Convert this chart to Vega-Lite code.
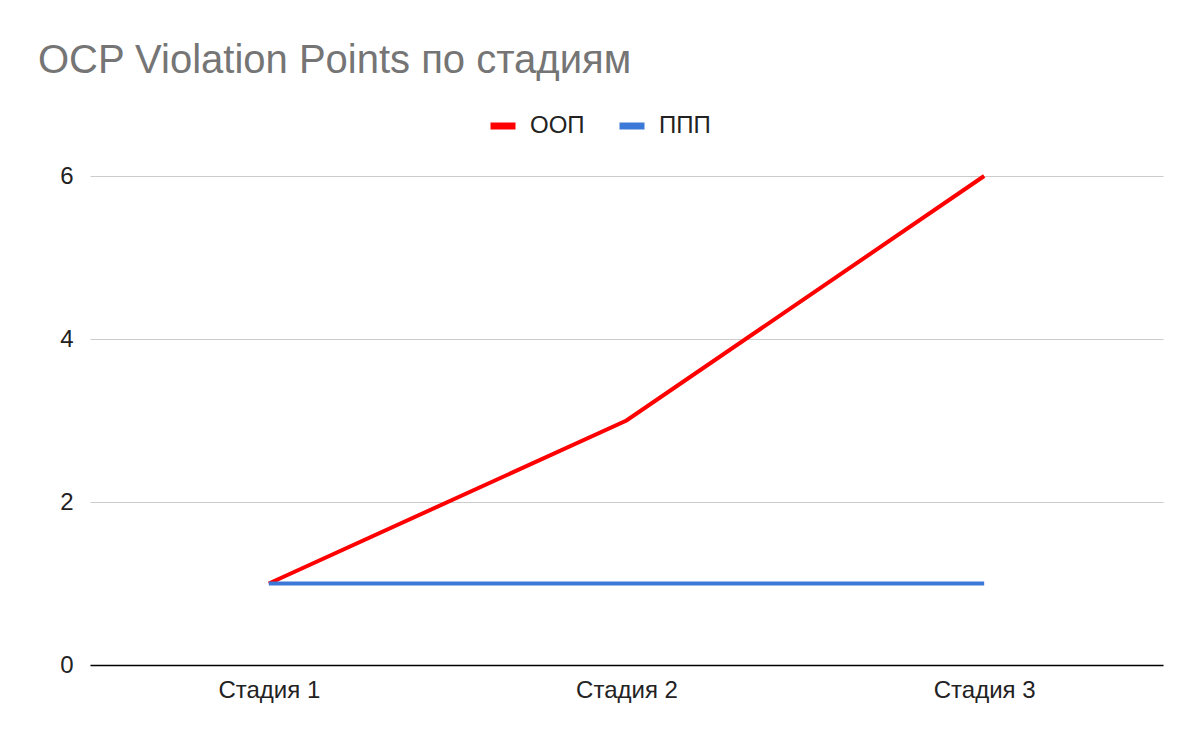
{
  "$schema": "https://vega.github.io/schema/vega-lite/v6.json",
  "width": 1073,
  "height": 489,
  "autosize": {"type": "none"},
  "padding": {"left": 90, "top": 176, "right": 37, "bottom": 77},
  "background": "white",
  "title": {
    "text": "OCP Violation Points по стадиям",
    "anchor": "start",
    "frame": "group",
    "dx": -52,
    "offset": 29,
    "fontSize": 40,
    "font": "Liberation Sans",
    "fontWeight": "normal",
    "color": "#757575"
  },
  "data": {
    "values": [
      {"stage": "Стадия 1", "series": "ООП", "value": 1},
      {"stage": "Стадия 2", "series": "ООП", "value": 3},
      {"stage": "Стадия 3", "series": "ООП", "value": 6},
      {"stage": "Стадия 1", "series": "ППП", "value": 1},
      {"stage": "Стадия 2", "series": "ППП", "value": 1},
      {"stage": "Стадия 3", "series": "ППП", "value": 1}
    ]
  },
  "mark": {"type": "line", "strokeWidth": 4},
  "encoding": {
    "x": {
      "field": "stage",
      "type": "ordinal",
      "scale": {"type": "point", "padding": 0.5},
      "axis": {
        "title": null,
        "labelAngle": 0,
        "ticks": false,
        "domainColor": "#000000",
        "domainWidth": 1.5,
        "labelFont": "Liberation Sans",
        "labelFontSize": 24,
        "labelColor": "#222222",
        "labelPadding": 13,
        "grid": false
      }
    },
    "y": {
      "field": "value",
      "type": "quantitative",
      "scale": {"domain": [0, 6], "nice": false},
      "axis": {
        "title": null,
        "values": [0, 2, 4, 6],
        "ticks": false,
        "domain": false,
        "gridColor": "#cccccc",
        "gridWidth": 1.2,
        "labelFont": "Liberation Sans",
        "labelFontSize": 24,
        "labelColor": "#222222",
        "labelPadding": 17
      }
    },
    "color": {
      "field": "series",
      "type": "nominal",
      "scale": {"domain": ["ООП", "ППП"], "range": ["#ff0000", "#3c78d8"]},
      "legend": {
        "title": null,
        "orient": "none",
        "direction": "horizontal",
        "legendX": 397,
        "legendY": -66,
        "symbolType": "stroke",
        "symbolSize": 625,
        "symbolStrokeWidth": 7,
        "labelFont": "Liberation Sans",
        "labelFontSize": 24,
        "labelColor": "#222222",
        "labelOffset": 11,
        "columnPadding": 20
      }
    },
    "order": {"field": "series", "sort": "descending"}
  },
  "config": {"view": {"stroke": null}}
}
